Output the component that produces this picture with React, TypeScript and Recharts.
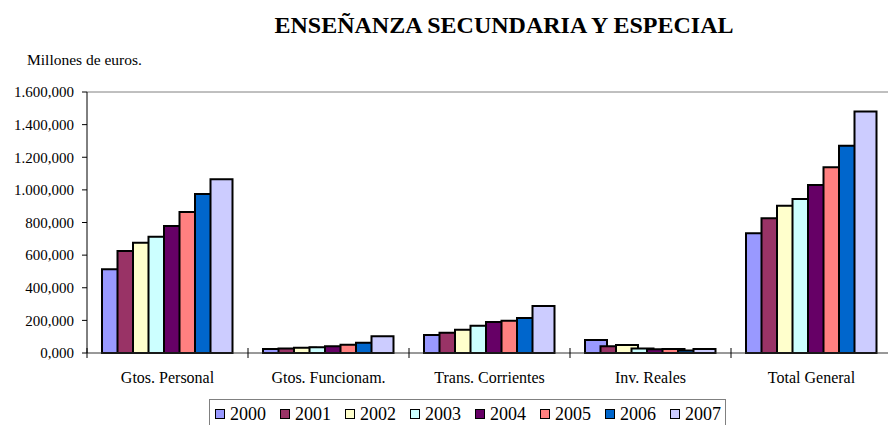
import { Bar, BarChart, Legend, ReferenceLine, XAxis, YAxis } from "recharts";

const CATEGORIES = [
  "Gtos. Personal",
  "Gtos. Funcionam.",
  "Trans. Corrientes",
  "Inv. Reales",
  "Total General",
];

const YEARS = ["2000", "2001", "2002", "2003", "2004", "2005", "2006", "2007"];

// millones de euros, one array per year, in CATEGORIES order
const Y2000 = [513, 24, 110, 80, 734];
const Y2001 = [625, 28, 124, 41, 826];
const Y2002 = [676, 32, 143, 49, 903];
const Y2003 = [713, 35, 167, 27, 944];
const Y2004 = [779, 41, 190, 23, 1030];
const Y2005 = [864, 51, 198, 24, 1138];
const Y2006 = [975, 63, 214, 16, 1270];
const Y2007 = [1065, 102, 288, 24, 1480];

const SERIES = [Y2000, Y2001, Y2002, Y2003, Y2004, Y2005, Y2006, Y2007];

const Y_TICKS = [0, 200, 400, 600, 800, 1000, 1200, 1400, 1600];

const COLORS = [
  "#9999ff",
  "#993366",
  "#ffffcc",
  "#ccffff",
  "#660066",
  "#ff8080",
  "#0066cc",
  "#ccccff",
];

const FONT = "'Liberation Serif', 'Times New Roman', serif";
const CHART_W = 900;
const Y_AXIS_W = 87;
const MARGIN_RIGHT = 8;
const BAND_HALF = (CHART_W - Y_AXIS_W - MARGIN_RIGHT) / CATEGORIES.length / 2;

const chartData = CATEGORIES.map((name, i) => {
  const row: Record<string, string | number> = { name };
  YEARS.forEach((year, s) => {
    row[year] = SERIES[s][i];
  });
  return row;
});

function formatEs(value: number): string {
  const whole = Math.floor(value);
  const grouped = String(whole).replace(/\B(?=(\d{3})+(?!\d))/g, ".");
  return `${grouped},000`;
}

function CategoryTick(props: any) {
  const { x, y, payload } = props;
  const edge = x - BAND_HALF;
  return (
    <g>
      <line x1={edge} x2={edge} y1={y - 5} y2={y + 5} stroke="#000" strokeWidth={1} />
      <text
        x={x}
        y={y + 30}
        textAnchor="middle"
        fontFamily={FONT}
        fontSize={16}
        fill="#000"
      >
        {payload.value}
      </text>
    </g>
  );
}

function YearLegend() {
  return (
    <div
      style={{
        display: "flex",
        alignItems: "center",
        gap: 14,
        border: "1px solid #808080",
        padding: "2px 4px 2px 5px",
        fontFamily: FONT,
        fontSize: 18,
        boxSizing: "border-box",
        height: 30,
        background: "#fff",
        color: "#000",
      }}
    >
      {YEARS.map((year, s) => (
        <div key={year} style={{ display: "flex", alignItems: "center", gap: 5 }}>
          <span
            style={{
              display: "inline-block",
              width: 8,
              height: 8,
              background: COLORS[s],
              border: "1.5px solid #000",
            }}
          />
          <span style={{ fontFamily: FONT, fontSize: 18, lineHeight: "20px" }}>{year}</span>
        </div>
      ))}
    </div>
  );
}

export default function App() {
  return (
    <div
      style={{
        position: "relative",
        width: 888,
        height: 425,
        overflow: "hidden",
        background: "#fff",
      }}
    >
      <style>{`body{margin:0}`}</style>
      <div
        style={{
          position: "absolute",
          top: 12,
          left: 0,
          width: 1008,
          textAlign: "center",
          fontFamily: FONT,
          fontWeight: "bold",
          fontSize: 24,
          color: "#000",
        }}
      >
        ENSEÑANZA SECUNDARIA Y ESPECIAL
      </div>
      <div
        style={{
          position: "absolute",
          top: 51,
          left: 27,
          fontFamily: FONT,
          fontSize: 15.5,
          color: "#000",
        }}
      >
        Millones de euros.
      </div>
      <BarChart
        width={CHART_W}
        height={425}
        data={chartData}
        margin={{ top: 92, right: MARGIN_RIGHT, left: 0, bottom: 32 }}
        barSize={22}
        barGap={-6.5}
      >
        <ReferenceLine y={1600} stroke="#808080" strokeWidth={1} />
        <XAxis
          dataKey="name"
          height={40}
          stroke="#333"
          tickLine={false}
          tickSize={0}
          tickMargin={0}
          interval={0}
          tick={<CategoryTick />}
        />
        <YAxis
          width={Y_AXIS_W}
          domain={[0, 1600]}
          ticks={Y_TICKS}
          tickFormatter={formatEs}
          stroke="#000"
          tickSize={5}
          tickMargin={8}
          tick={{ fill: "#000", fontSize: 15, fontFamily: FONT }}
        />
        <Legend
          verticalAlign="middle"
          align="center"
          layout="horizontal"
          wrapperStyle={{ top: 399, left: 209, width: "auto" }}
          content={<YearLegend />}
        />
        {YEARS.map((year, s) => (
          <Bar
            key={year}
            dataKey={year}
            fill={COLORS[s]}
            stroke="#000"
            strokeWidth={2}
            isAnimationActive={false}
          />
        ))}
      </BarChart>
    </div>
  );
}
